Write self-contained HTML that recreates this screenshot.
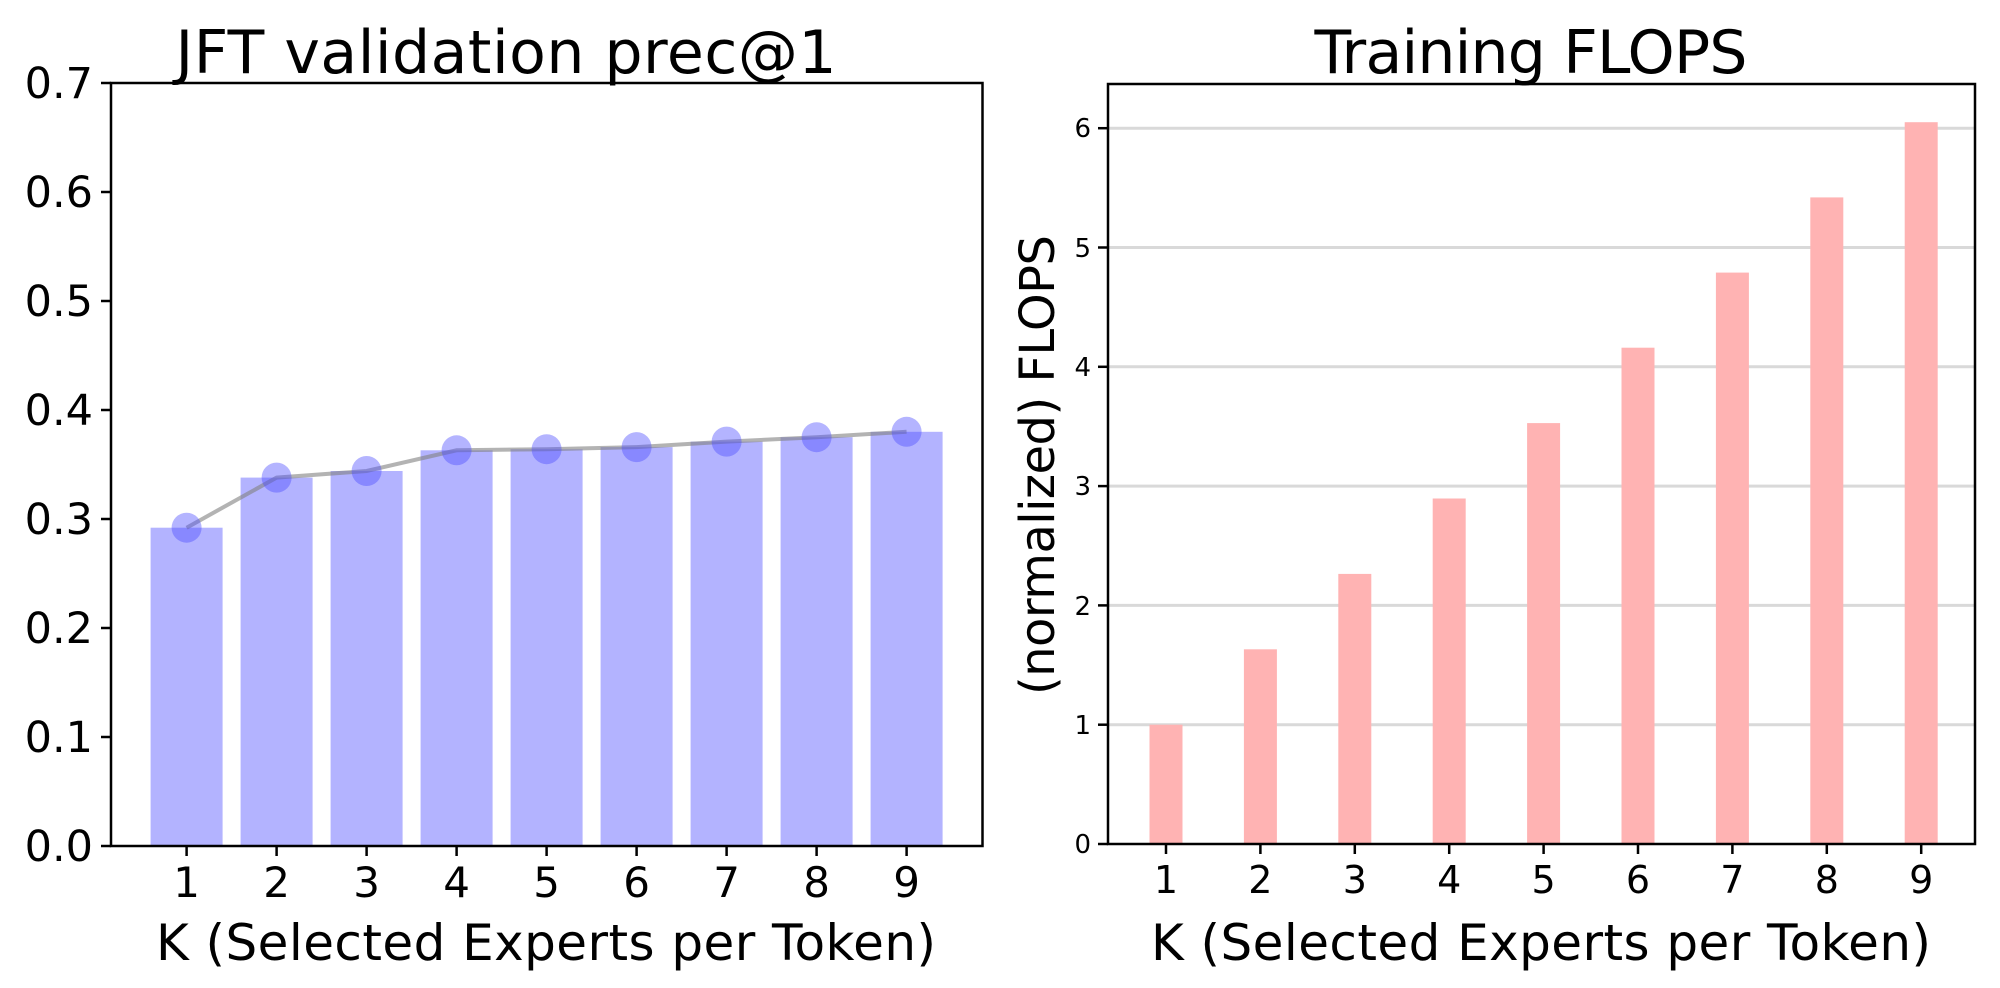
<!DOCTYPE html>
<html><head><meta charset="utf-8"><style>html,body{margin:0;padding:0;background:#fff}svg{display:block}</style></head>
<body>
<svg width="2000" height="988" xmlns="http://www.w3.org/2000/svg" font-family="DejaVu Sans, Liberation Sans, sans-serif">
<!-- LEFT -->
<g fill="#b3b3ff">
<rect x="150.6" y="527.7" width="72" height="318.3"/>
<rect x="240.6" y="477.6" width="72" height="368.4"/>
<rect x="330.6" y="471" width="72" height="375"/>
<rect x="420.6" y="450.3" width="72" height="395.7"/>
<rect x="510.6" y="449.2" width="72" height="396.8"/>
<rect x="600.6" y="447.1" width="72" height="398.9"/>
<rect x="690.6" y="441.6" width="72" height="404.4"/>
<rect x="780.6" y="437.2" width="72" height="408.8"/>
<rect x="870.6" y="431.8" width="72" height="414.2"/>
</g>
<polyline fill="none" stroke="#808080" stroke-opacity="0.6" stroke-width="4" points="186.6,527.7 276.6,477.6 366.6,471 456.6,450.3 546.6,449.2 636.6,447.1 726.6,441.6 816.6,437.2 906.6,431.8"/>
<g fill="#4d4dff" fill-opacity="0.42">
<circle cx="186.6" cy="527.7" r="15"/><circle cx="276.6" cy="477.6" r="15"/><circle cx="366.6" cy="471" r="15"/>
<circle cx="456.6" cy="450.3" r="15"/><circle cx="546.6" cy="449.2" r="15"/><circle cx="636.6" cy="447.1" r="15"/>
<circle cx="726.6" cy="441.6" r="15"/><circle cx="816.6" cy="437.2" r="15"/><circle cx="906.6" cy="431.8" r="15"/>
</g>
<rect x="111" y="83" width="871.5" height="763" fill="none" stroke="#000" stroke-width="2.5"/>
<g stroke="#000" stroke-width="2.5">
<line x1="101" y1="846" x2="111" y2="846"/><line x1="101" y1="737" x2="111" y2="737"/><line x1="101" y1="628" x2="111" y2="628"/><line x1="101" y1="519" x2="111" y2="519"/><line x1="101" y1="410" x2="111" y2="410"/><line x1="101" y1="301" x2="111" y2="301"/><line x1="101" y1="192" x2="111" y2="192"/><line x1="101" y1="83" x2="111" y2="83"/>
<line x1="186.6" y1="846" x2="186.6" y2="856"/><line x1="276.6" y1="846" x2="276.6" y2="856"/><line x1="366.6" y1="846" x2="366.6" y2="856"/><line x1="456.6" y1="846" x2="456.6" y2="856"/><line x1="546.6" y1="846" x2="546.6" y2="856"/><line x1="636.6" y1="846" x2="636.6" y2="856"/><line x1="726.6" y1="846" x2="726.6" y2="856"/><line x1="816.6" y1="846" x2="816.6" y2="856"/><line x1="906.6" y1="846" x2="906.6" y2="856"/>
</g>
<g font-size="43" text-anchor="end">
<text x="93" y="861">0.0</text><text x="93" y="752">0.1</text><text x="93" y="643">0.2</text><text x="93" y="534">0.3</text><text x="93" y="425">0.4</text><text x="93" y="316">0.5</text><text x="93" y="207">0.6</text><text x="93" y="98">0.7</text>
</g>
<g font-size="42" text-anchor="middle">
<text x="186.6" y="897">1</text><text x="276.6" y="897">2</text><text x="366.6" y="897">3</text><text x="456.6" y="897">4</text><text x="546.6" y="897">5</text><text x="636.6" y="897">6</text><text x="726.6" y="897">7</text><text x="816.6" y="897">8</text><text x="906.6" y="897">9</text>
</g>
<text x="546" y="960" font-size="50" text-anchor="middle" textLength="780">K (Selected Experts per Token)</text>
<text x="506" y="73" font-size="60" text-anchor="middle" textLength="661">JFT validation prec@1</text>

<!-- RIGHT -->
<g stroke="#d9d9d9" stroke-width="3">
<line x1="1108" y1="724.7" x2="1975" y2="724.7"/><line x1="1108" y1="605.4" x2="1975" y2="605.4"/><line x1="1108" y1="486.1" x2="1975" y2="486.1"/><line x1="1108" y1="366.8" x2="1975" y2="366.8"/><line x1="1108" y1="247.5" x2="1975" y2="247.5"/><line x1="1108" y1="128.2" x2="1975" y2="128.2"/>
</g>
<g fill="#ffb3b3">
<rect x="1149.5" y="724.7" width="33" height="119.3"/>
<rect x="1243.9" y="649.3" width="33" height="194.7"/>
<rect x="1338.3" y="573.9" width="33" height="270.1"/>
<rect x="1432.7" y="498.5" width="33" height="345.5"/>
<rect x="1527.1" y="423.1" width="33" height="420.9"/>
<rect x="1621.5" y="347.7" width="33" height="496.3"/>
<rect x="1715.9" y="272.6" width="33" height="571.4"/>
<rect x="1810.3" y="197.4" width="33" height="646.6"/>
<rect x="1904.7" y="122.2" width="33" height="721.8"/>
</g>
<rect x="1108" y="84" width="867" height="760" fill="none" stroke="#000" stroke-width="2.5"/>
<g stroke="#000" stroke-width="2.5">
<line x1="1098" y1="844" x2="1108" y2="844"/><line x1="1098" y1="724.7" x2="1108" y2="724.7"/><line x1="1098" y1="605.4" x2="1108" y2="605.4"/><line x1="1098" y1="486.1" x2="1108" y2="486.1"/><line x1="1098" y1="366.8" x2="1108" y2="366.8"/><line x1="1098" y1="247.5" x2="1108" y2="247.5"/><line x1="1098" y1="128.2" x2="1108" y2="128.2"/>
<line x1="1166" y1="844" x2="1166" y2="854"/><line x1="1260.4" y1="844" x2="1260.4" y2="854"/><line x1="1354.8" y1="844" x2="1354.8" y2="854"/><line x1="1449.2" y1="844" x2="1449.2" y2="854"/><line x1="1543.6" y1="844" x2="1543.6" y2="854"/><line x1="1638" y1="844" x2="1638" y2="854"/><line x1="1732.4" y1="844" x2="1732.4" y2="854"/><line x1="1826.8" y1="844" x2="1826.8" y2="854"/><line x1="1921.2" y1="844" x2="1921.2" y2="854"/>
</g>
<g font-size="26" text-anchor="end">
<text x="1091" y="853">0</text><text x="1091" y="734">1</text><text x="1091" y="615">2</text><text x="1091" y="495">3</text><text x="1091" y="376">4</text><text x="1091" y="257">5</text><text x="1091" y="137">6</text>
</g>
<g font-size="38" text-anchor="middle">
<text x="1166" y="893">1</text><text x="1260.4" y="893">2</text><text x="1354.8" y="893">3</text><text x="1449.2" y="893">4</text><text x="1543.6" y="893">5</text><text x="1638" y="893">6</text><text x="1732.4" y="893">7</text><text x="1826.8" y="893">8</text><text x="1921.2" y="893">9</text>
</g>
<text x="1541" y="960" font-size="50" text-anchor="middle" textLength="780">K (Selected Experts per Token)</text>
<text x="1531" y="73" font-size="60" text-anchor="middle" textLength="433">Training FLOPS</text>
<text transform="translate(1054,465) rotate(-90)" font-size="48" text-anchor="middle" textLength="460">(normalized) FLOPS</text>
</svg>
</body></html>
